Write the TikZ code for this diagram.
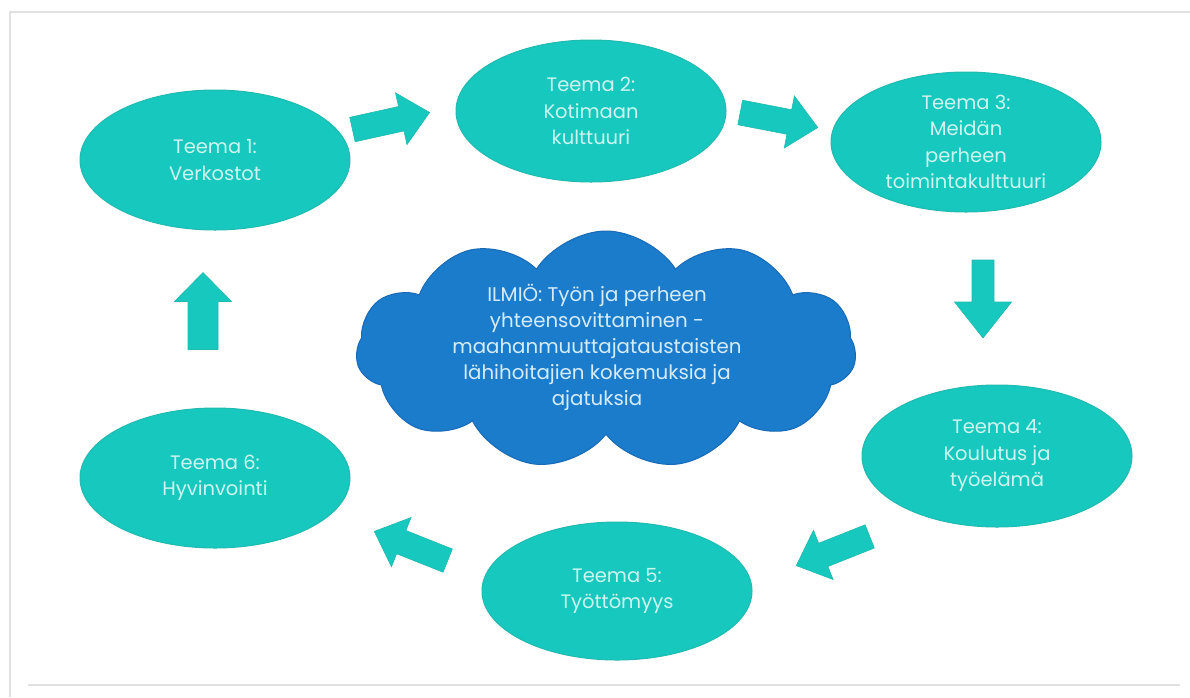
\documentclass[tikz,border=0pt]{standalone}
\usepackage{fontspec}
\setmainfont{Poppins}
\usetikzlibrary{shapes.geometric,shapes.symbols}
\definecolor{teal1}{RGB}{22,200,189}
\definecolor{tealedge}{RGB}{34,186,176}
\definecolor{tealtext}{RGB}{205,245,240}
\definecolor{cloudblue}{RGB}{28,124,204}
\definecolor{cloudedge}{RGB}{24,106,182}
\definecolor{cloudtext}{RGB}{212,236,250}
\definecolor{framegrey}{RGB}{224,224,224}
\newcommand\blkarrow[6]{%
  \begin{scope}[shift={#1},rotate=#2]
    \draw[blockarrow] (-#3/2,#4/2) -- (#3/2-#6,#4/2) -- (#3/2-#6,#5/2) -- (#3/2,0)
      -- (#3/2-#6,-#5/2) -- (#3/2-#6,-#4/2) -- (-#3/2,-#4/2) -- cycle;
  \end{scope}}
\begin{document}
\begin{tikzpicture}[x=1pt,y=-1pt,
  theme/.style={ellipse, fill=teal1, draw=tealedge, line width=1pt,
    minimum width=270pt, minimum height=140pt, inner sep=0pt, align=center,
    text=tealtext, font=\fontsize{19.5}{26.5}\selectfont},
  blockarrow/.style={fill=teal1, draw=tealedge, line width=0.6pt, line join=miter},
  framestyle/.style={draw=framegrey, line width=2pt}]
\useasboundingbox (0,0) rectangle (1190,697);
\fill[white] (0,0) rectangle (1190,697);
% frame
\draw[framestyle] (1190,12) -- (10,12) -- (10,697);
\draw[framestyle] (28,685) -- (1180,685);
% cloud
\node[cloud, cloud puffs=11, cloud puff arc=115, cloud ignores aspect,
  minimum width=500pt, minimum height=238pt, fill=cloudblue, draw=cloudedge,
  line width=1pt] (c) at (606,350) {};
\node[align=center, text=cloudtext, font=\fontsize{19.8}{26}\selectfont] (ct) at (597,347)
  {ILMIÖ: Työn ja perheen\\yhteensovittaminen -\\maahanmuuttajataustaisten\\lähihoitajien kokemuksia ja\\ajatuksia};
% themes
\node[theme] (t1) at (215,160) {Teema 1:\\Verkostot};
\node[theme, minimum height=142pt] (t2) at (591,111) {Teema 2:\\Kotimaan\\kulttuuri};
\node[theme] (t3) at (966,142) {Teema 3:\\Meidän\\perheen\\toimintakulttuuri};
\node[theme, minimum height=142pt] (t4) at (997,456) {Teema 4:\\Koulutus ja\\työelämä};
\node[theme, minimum height=138pt] (t5) at (617,591) {Teema 5:\\Työttömyys};
\node[theme] (t6) at (215,478) {Teema 6:\\Hyvinvointi};
% block arrows
\blkarrow{(391,121)}{12.5}{79}{25}{53}{29}
\blkarrow{(779,120)}{-11}{79}{25}{53}{29}
\blkarrow{(983,299)}{-90}{78}{22}{57}{36}
\blkarrow{(833,551)}{201.7}{79}{25}{53}{29}
\blkarrow{(411,546)}{158.3}{79}{25}{53}{29}
\blkarrow{(203,311)}{90}{77}{30}{57}{29}
\end{tikzpicture}
\end{document}
